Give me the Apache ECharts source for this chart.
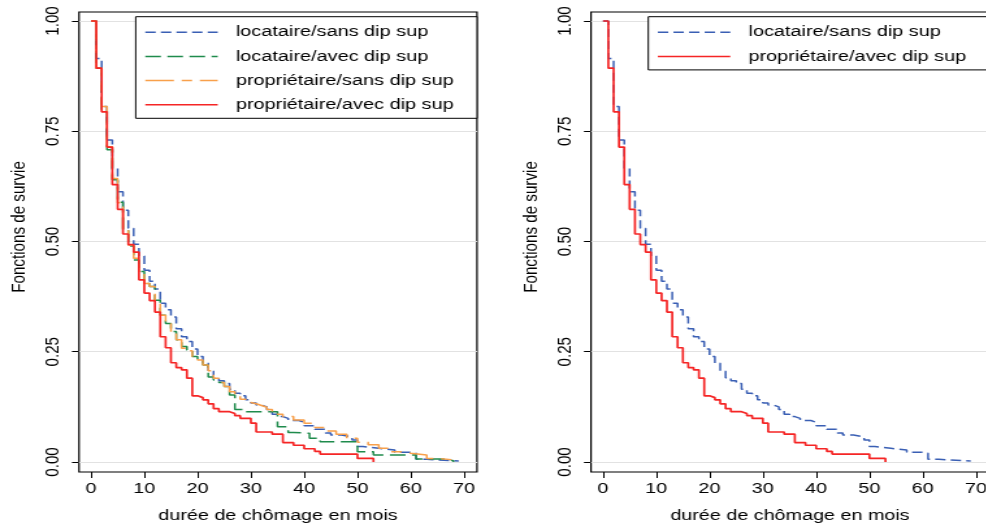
<!DOCTYPE html>
<html>
<head>
<meta charset="utf-8">
<script src="https://cdn.jsdelivr.net/npm/echarts@6/dist/echarts.min.js"></script>
<style>
  html, body { margin: 0; padding: 0; background: #fff; overflow: hidden; width: 986px; height: 527px; }
  /* the reference is stretched horizontally, so draw narrower and widen it */
  #chart { width: 770px; height: 527px; transform: scaleX(1.3); transform-origin: 0 0; }
</style>
</head>
<body>
<div id="chart"></div>
<script>
// durée en mois / survie
const tLocSans = [0,1,2,3,4,5,6,7,8,9,10,11,12,13,14,15,16,17,18,19,20,21,22,23,24,25,26,27,28,29,30,31,32,33,34,35,36,37,39,40,42,44,45,47,49,50,51,54,57,60,61,63,69];
const sLocSans = [1,0.915,0.806,0.730,0.666,0.613,0.571,0.530,0.494,0.467,0.435,0.410,0.392,0.360,0.345,0.329,0.302,0.284,0.273,0.256,0.239,0.224,0.206,0.191,0.184,0.178,0.165,0.156,0.150,0.141,0.134,0.129,0.125,0.119,0.108,0.103,0.099,0.094,0.090,0.082,0.074,0.066,0.061,0.057,0.050,0.035,0.031,0.027,0.022,0.020,0.006,0.002,0.002];

const tLocAvec = [0,1,2,3,4,5,6,7,8,9,10,11,12,13,14,15,16,17,18,19,20,21,22,23,24,25,26,27,29,35,37,38,41,43,50,53,61,66,68];
const sLocAvec = [1,0.893,0.797,0.708,0.640,0.589,0.526,0.490,0.458,0.432,0.405,0.398,0.367,0.333,0.314,0.296,0.277,0.262,0.254,0.239,0.233,0.220,0.193,0.186,0.180,0.171,0.152,0.119,0.114,0.080,0.067,0.065,0.054,0.046,0.023,0.016,0.007,0.003,0];

const tPropSans = [0,1,2,3,4,5,6,7,8,9,10,11,12,13,14,15,16,17,18,19,20,21,22,23,24,25,26,27,28,29,30,31,32,33,34,35,36,38,40,42,44,46,48,50,52,54,56,58,60,63,65,68];
const sPropSans = [1,0.893,0.806,0.715,0.643,0.588,0.526,0.492,0.462,0.430,0.405,0.398,0.360,0.333,0.314,0.296,0.277,0.258,0.252,0.239,0.231,0.220,0.207,0.190,0.180,0.171,0.159,0.150,0.142,0.135,0.132,0.128,0.124,0.119,0.113,0.108,0.103,0.095,0.088,0.078,0.070,0.063,0.054,0.045,0.039,0.031,0.023,0.020,0.016,0.008,0.005,0];

const tPropAvec = [0,1,2,3,4,5,6,7,8,9,10,11,12,13,14,15,16,17,18,19,20,21,22,23,24,26,27,28,30,31,34,36,38,40,42,43,50,53];
const sPropAvec = [1,0.893,0.794,0.714,0.629,0.573,0.517,0.493,0.476,0.413,0.383,0.366,0.340,0.284,0.259,0.225,0.214,0.209,0.190,0.150,0.146,0.141,0.132,0.121,0.114,0.110,0.105,0.099,0.088,0.068,0.063,0.044,0.038,0.030,0.024,0.018,0.008,0];

const xTicks = [0,10,20,30,40,50,60,70];
const yTicks = [0,0.25,0.5,0.75,1];

const FONT = 'Liberation Sans, Arial, sans-serif';

// styles des courbes
const curves = {
  'locataire/sans dip sup':    { color: '#3a5fb4', dash: [8, 4],         t: tLocSans,  s: sLocSans },
  'locataire/avec dip sup':    { color: '#1f8b4c', dash: [12, 5],        t: tLocAvec,  s: sLocAvec },
  'propriétaire/sans dip sup': { color: '#f8a04b', dash: [22, 6, 8, 6],  t: tPropSans, s: sPropSans },
  'propriétaire/avec dip sup': { color: '#f52525', dash: 'solid',        t: tPropAvec, s: sPropAvec }
};

function pairs(t, s) {
  return t.map((v, i) => [v, s[i]]);
}

function makeSeries(name, gi, withGrid) {
  const c = curves[name];
  const ser = {
    name: name,
    type: 'line',
    xAxisIndex: gi,
    yAxisIndex: gi,
    step: 'end',
    symbol: 'none',
    showSymbol: false,
    silent: true,
    lineStyle: { color: c.color, width: c.dash === 'solid' ? 1.7 : 1.5, type: c.dash },
    itemStyle: { color: c.color },
    data: pairs(c.t, c.s)
  };
  if (withGrid) {
    // lignes horizontales du fond
    ser.markLine = {
      silent: true,
      z: 1,
      animation: false,
      symbol: ['none', 'none'],
      label: { show: false },
      lineStyle: { color: '#e2e2e2', width: 1, type: 'solid' },
      emphasis: { disabled: true },
      data: yTicks.map(v => ({ yAxis: v }))
    };
  }
  return ser;
}

function xAxisFor(gi) {
  return {
    type: 'value', gridIndex: gi, min: -2.25, max: 72.43,
    name: 'durée de chômage en mois', nameLocation: 'middle', nameGap: 36,
    nameTextStyle: { fontSize: 15.2, color: '#000', fontFamily: FONT },
    axisLine: { show: false, onZero: false },
    axisTick: { show: true, length: 6, customValues: xTicks, lineStyle: { color: '#000', width: 1 } },
    axisLabel: { customValues: xTicks, fontSize: 15.2, color: '#000', fontFamily: FONT, margin: 9 },
    splitLine: { show: false }
  };
}

function yAxisFor(gi) {
  return {
    type: 'value', gridIndex: gi, min: -0.0227, max: 1.0204,
    name: 'Fonctions de survie', nameLocation: 'middle', nameGap: 38,
    nameTextStyle: { fontSize: 15.2, color: '#000', fontFamily: FONT, padding: [0, 0, 0, 30] },
    axisLine: { show: false, onZero: false },
    axisTick: { show: true, length: 5.4, customValues: yTicks, lineStyle: { color: '#000', width: 1 } },
    axisLabel: {
      customValues: yTicks, rotate: 90, fontSize: 15.2, color: '#000', fontFamily: FONT, margin: 12,
      formatter: v => v.toFixed(2)
    },
    splitLine: { show: false }
  };
}

function legendFor(names, left) {
  return {
    orient: 'vertical',
    left: left, top: 16.7,
    selectedMode: false,
    backgroundColor: '#fff',
    borderColor: '#000',
    borderWidth: 1,
    borderRadius: 0,
    padding: [8, 18, 6, 6.6],
    itemWidth: 55.7,
    itemHeight: 14,
    itemGap: 9.2,
    textStyle: { fontSize: 15.3, color: '#000', fontFamily: FONT, padding: [0, 0, 0, 9] },
    data: names.map(n => ({
      name: n,
      itemStyle: { opacity: 0 },
      lineStyle: { color: curves[n].color, width: 1.5, type: curves[n].dash }
    }))
  };
}

const leftNames = ['locataire/sans dip sup', 'locataire/avec dip sup', 'propriétaire/sans dip sup', 'propriétaire/avec dip sup'];
const rightNames = ['locataire/sans dip sup', 'propriétaire/avec dip sup'];

const chart = echarts.init(document.getElementById('chart'));

const option = {
  animation: false,
  backgroundColor: '#fff',
  grid: [
    { left: 60.77, top: 12, width: 306.15, height: 460, show: true, borderColor: '#000', borderWidth: 1.2, backgroundColor: 'transparent', outerBoundsMode: 'none' },
    { left: 454.6, top: 12, width: 306.15, height: 460, show: true, borderColor: '#000', borderWidth: 1.2, backgroundColor: 'transparent', outerBoundsMode: 'none' }
  ],
  legend: [legendFor(leftNames, 104.4), legendFor(rightNames, 498.7)],
  xAxis: [xAxisFor(0), xAxisFor(1)],
  yAxis: [yAxisFor(0), yAxisFor(1)],
  series: [
    makeSeries('locataire/sans dip sup', 0, true),
    makeSeries('locataire/avec dip sup', 0, false),
    makeSeries('propriétaire/sans dip sup', 0, false),
    makeSeries('propriétaire/avec dip sup', 0, false),
    makeSeries('locataire/sans dip sup', 1, true),
    makeSeries('propriétaire/avec dip sup', 1, false)
  ]
};

chart.setOption(option);
</script>
</body>
</html>
